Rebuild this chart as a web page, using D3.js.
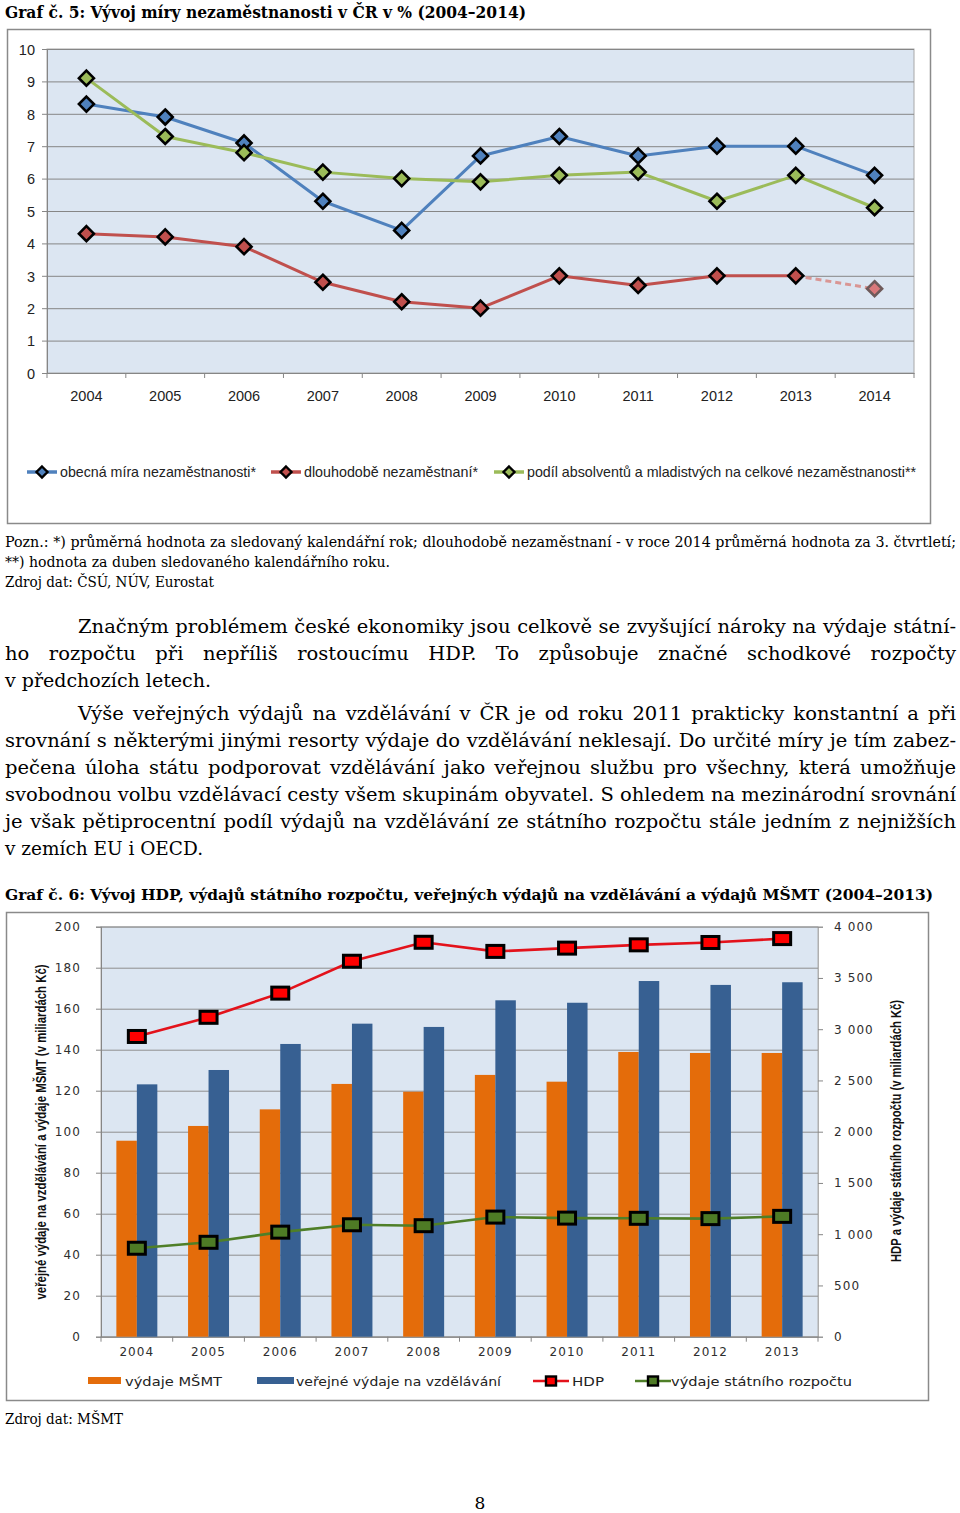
<!DOCTYPE html>
<html>
<head>
<meta charset="utf-8">
<script src="https://cdn.jsdelivr.net/npm/d3@7"></script>
<style>
  body { margin: 0; background: #ffffff; }
  svg { display: block; }
</style>
</head>
<body>
<svg id="page" width="960" height="1513"></svg>
<script>
// ---------------- DATA ----------------
// Graf č. 5
const years1 = ["2004","2005","2006","2007","2008","2009","2010","2011","2012","2013","2014"];
const obecnaMira = [8.3, 7.9, 7.1, 5.3, 4.4, 6.7, 7.3, 6.7, 7.0, 7.0, 6.1];
const dlouhodobe = [4.3, 4.2, 3.9, 2.8, 2.2, 2.0, 3.0, 2.7, 3.0, 3.0, 2.6];
const podilAbsolventu = [9.1, 7.3, 6.8, 6.2, 6.0, 5.9, 6.1, 6.2, 5.3, 6.1, 5.1];
const ticks1 = [0, 1, 2, 3, 4, 5, 6, 7, 8, 9, 10];
const legend1 = ["obecná míra nezaměstnanosti*", "dlouhodobě nezaměstnaní*", "podíl absolventů a mladistvých na celkové nezaměstnanosti**"];

// Graf č. 6
const years2 = ["2004","2005","2006","2007","2008","2009","2010","2011","2012","2013"];
const vydajeMSMT = [95.6, 102.8, 110.9, 123.3, 119.5, 127.7, 124.4, 138.9, 138.4, 138.4];
const verejneVydaje = [123.1, 130.1, 142.8, 152.7, 151.1, 164.1, 162.9, 173.5, 171.6, 172.9];
const hdp = [2929, 3116, 3352, 3663, 3848, 3759, 3791, 3823, 3846, 3884];
const vydajeRozpoctu = [863, 921, 1020, 1092, 1083, 1167, 1157, 1155, 1152, 1174];
const ticksLeft2 = [0, 20, 40, 60, 80, 100, 120, 140, 160, 180, 200];
const ticksRight2 = [0, 500, 1000, 1500, 2000, 2500, 3000, 3500, 4000];
const legend2 = ["výdaje MŠMT", "veřejné výdaje na vzdělávání", "HDP", "výdaje státního rozpočtu"];

// ---------------- HELPERS ----------------
const svg = d3.select("#page");
const SERIF = "'DejaVu Serif', 'Liberation Serif', serif";
const NARROW = "'Liberation Sans Narrow', 'Liberation Sans', Arial, sans-serif";
const VERD = "'DejaVu Sans', Verdana, sans-serif";

function fitText(parent, str, x, y, w, style) {
  const t = parent.append("text").attr("x", x).attr("y", y).text(str);
  Object.entries(style || {}).forEach(([k, v]) => t.style(k, v));
  if (w) t.attr("textLength", w).attr("lengthAdjust", "spacingAndGlyphs");
  return t;
}

function paragraph(lines, style) {
  lines.forEach(l => {
    l.t = svg.append("text").attr("x", l.x).attr("y", l.y).text(l.s);
    Object.entries(style).forEach(([k, v]) => l.t.style(k, v));
    l.nat = l.t.node().getComputedTextLength();
  });
  const just = lines.filter(l => l.justify);
  const scale = just.length ? d3.min(just, l => l.w / l.nat) : 1;
  lines.forEach(l => {
    if (l.justify) {
      const n = (l.s.match(/ /g) || []).length;
      const ws = Math.max(0, (l.w / scale - l.nat) / Math.max(1, n));
      l.t.style("word-spacing", ws + "px");
    }
    l.t.attr("textLength", l.w).attr("lengthAdjust", "spacingAndGlyphs");
  });
}

// ---------------- TITLES / TEXT ----------------
fitText(svg, "Graf č. 5: Vývoj míry nezaměstnanosti v ČR v % (2004–2014)", 5, 18, 521,
  {"font-family": SERIF, "font-weight": "bold", "font-size": "16.5px", fill: "#000"});

// chart 1 frame
svg.append("rect").attr("x", 7.5).attr("y", 29.5).attr("width", 923).attr("height", 494)
  .attr("fill", "#fff").attr("stroke", "#8a8a8a").attr("stroke-width", 1.5);

// notes
paragraph([
  {s: "Pozn.: *) průměrná hodnota za sledovaný kalendářní rok; dlouhodobě nezaměstnaní - v roce 2014 průměrná hodnota za 3. čtvrtletí;", x: 5, y: 547, w: 951, justify: true},
], {"font-family": SERIF, "font-size": "14px", fill: "#000"});
fitText(svg, "**) hodnota za duben sledovaného kalendářního roku.", 5, 567, 385, {"font-family": SERIF, "font-size": "14px", fill: "#000"});
fitText(svg, "Zdroj dat: ČSÚ, NÚV, Eurostat", 5, 587, 209, {"font-family": SERIF, "font-size": "14px", fill: "#000"});

paragraph([
  {s: "Značným problémem české ekonomiky jsou celkově se zvyšující nároky na výdaje státní-", x: 78, y: 633, w: 878, justify: true},
  {s: "ho rozpočtu při nepříliš rostoucímu HDP. To způsobuje značné schodkové rozpočty", x: 5, y: 660, w: 951, justify: true},
  {s: "v předchozích letech.", x: 5, y: 687, w: 206, justify: false},
  {s: "Výše veřejných výdajů na vzdělávání v ČR je od roku 2011 prakticky konstantní a při", x: 78, y: 720, w: 878, justify: true},
  {s: "srovnání s některými jinými resorty výdaje do vzdělávání neklesají. Do určité míry je tím zabez-", x: 5, y: 747, w: 951, justify: true},
  {s: "pečena úloha státu podporovat vzdělávání jako veřejnou službu pro všechny, která umožňuje", x: 5, y: 774, w: 951, justify: true},
  {s: "svobodnou volbu vzdělávací cesty všem skupinám obyvatel. S ohledem na mezinárodní srovnání", x: 5, y: 801, w: 951, justify: true},
  {s: "je však pětiprocentní podíl výdajů na vzdělávání ze státního rozpočtu stále jedním z nejnižších", x: 5, y: 828, w: 951, justify: true},
  {s: "v zemích EU i OECD.", x: 5, y: 855, w: 198, justify: false}
], {"font-family": SERIF, "font-size": "19px", fill: "#000"});

fitText(svg, "Graf č. 6: Vývoj HDP, výdajů státního rozpočtu, veřejných výdajů na vzdělávání a výdajů MŠMT (2004–2013)", 5, 900, 928,
  {"font-family": SERIF, "font-weight": "bold", "font-size": "15.5px", fill: "#000"});

fitText(svg, "Zdroj dat: MŠMT", 5, 1424, 118, {"font-family": SERIF, "font-size": "14px", fill: "#000"});
svg.append("text").attr("x", 480).attr("y", 1509).attr("text-anchor", "middle")
  .style("font-family", SERIF).style("font-size", "17px").text("8");

// ---------------- CHART 1 ----------------
const p1 = {l: 47, r: 914, t: 49, b: 373};
const x1 = d3.scaleBand().domain(years1).range([p1.l, p1.r]);
const y1 = d3.scaleLinear().domain([0, 10]).range([p1.b, p1.t]);
const c1 = svg.append("g");

c1.append("rect").attr("x", p1.l).attr("y", p1.t).attr("width", p1.r - p1.l).attr("height", p1.b - p1.t)
  .attr("fill", "#dce6f2").attr("stroke", "#a8a8a8").attr("stroke-width", 1);

// gridlines
c1.append("g").attr("transform", `translate(${p1.l},0)`)
  .call(d3.axisLeft(y1).tickValues(ticks1).tickSize(-(p1.r - p1.l)).tickFormat(""))
  .call(g => g.select(".domain").remove())
  .call(g => g.selectAll("line").attr("stroke", "#868686").attr("stroke-width", 1));

// left axis
c1.append("g").attr("transform", `translate(${p1.l},0)`)
  .call(d3.axisLeft(y1).tickValues(ticks1).tickSize(5).tickPadding(7))
  .call(g => g.select(".domain").attr("stroke", "#868686"))
  .call(g => g.selectAll("line").attr("stroke", "#868686"))
  .call(g => g.selectAll("text").style("font-family", NARROW).style("font-size", "14.5px").attr("fill", "#222").attr("dy", "0.36em"));

// bottom axis
c1.append("g").attr("transform", `translate(0,${p1.b})`)
  .call(d3.axisBottom(x1).tickSize(0).tickPadding(18))
  .call(g => g.select(".domain").attr("stroke", "#868686"))
  .call(g => g.selectAll("text").style("font-family", NARROW).style("font-size", "14.5px").attr("fill", "#222"));
c1.append("g").selectAll("line").data(years1.concat(["end"])).join("line")
  .attr("x1", d => d === "end" ? p1.r : x1(d)).attr("x2", d => d === "end" ? p1.r : x1(d))
  .attr("y1", p1.b).attr("y2", p1.b + 5).attr("stroke", "#868686");

const cx1 = d => x1(d) + x1.bandwidth() / 2;
const diamond = r => `M0,${-r}L${r},0L0,${r}L${-r},0Z`;

const series1 = [
  {name: legend1[0], values: obecnaMira, color: "#4f81bd"},
  {name: legend1[1], values: dlouhodobe, color: "#c0504d", lastDashed: true},
  {name: legend1[2], values: podilAbsolventu, color: "#9bbb59"}
];

series1.forEach(s => {
  const pts = years1.map((y, i) => ({y, v: s.values[i], i}));
  const solid = s.lastDashed ? pts.slice(0, pts.length - 1) : pts;
  const line = d3.line().x(d => cx1(d.y)).y(d => y1(d.v));
  c1.append("path").datum(solid).attr("d", line).attr("fill", "none")
    .attr("stroke", s.color).attr("stroke-width", 3).attr("stroke-linejoin", "round");
  if (s.lastDashed) {
    c1.append("path").datum(pts.slice(pts.length - 2)).attr("d", line).attr("fill", "none")
      .attr("stroke", "#d99694").attr("stroke-width", 3).attr("stroke-dasharray", "6,4");
  }
  c1.append("g").selectAll("path").data(pts).join("path")
    .attr("transform", d => `translate(${cx1(d.y)},${y1(d.v)})`)
    .attr("d", diamond(7.5))
    .attr("fill", d => (s.lastDashed && d.i === pts.length - 1) ? "#d9787a" : s.color)
    .attr("stroke", d => (s.lastDashed && d.i === pts.length - 1) ? "#6e5a5a" : "#000")
    .attr("stroke-width", 2.6);
});

// legend 1
const leg1 = [
  {x: 27, tx: 60, w: 196},
  {x: 271, tx: 304, w: 174},
  {x: 494, tx: 527, w: 389}
];
series1.forEach((s, i) => {
  const L = leg1[i];
  const g = c1.append("g").attr("transform", `translate(${L.x},472)`);
  g.append("line").attr("x1", 0).attr("x2", 30).attr("stroke", s.color).attr("stroke-width", 3.5);
  g.append("path").attr("transform", "translate(15,0)").attr("d", diamond(5.5)).attr("fill", s.color)
    .attr("stroke", "#000").attr("stroke-width", 2.4);
  fitText(c1, s.name, L.tx, 477, L.w, {"font-family": NARROW, "font-size": "15px", fill: "#222"});
});

// ---------------- CHART 2 ----------------
svg.append("rect").attr("x", 6.5).attr("y", 912.5).attr("width", 922).attr("height", 488)
  .attr("fill", "#fff").attr("stroke", "#8a8a8a").attr("stroke-width", 1.5);

const p2 = {l: 101, r: 818, t: 926.7, b: 1336.7};
const x2 = d3.scaleBand().domain(years2).range([p2.l, p2.r]);
const yL = d3.scaleLinear().domain([0, 200]).range([p2.b, p2.t]);
const yR = d3.scaleLinear().domain([0, 4000]).range([p2.b, p2.t]);
const fmtR = d3.formatLocale({decimal: ",", thousands: " ", grouping: [3], currency: ["", " Kč"]}).format(",");
const c2 = svg.append("g");

c2.append("rect").attr("x", p2.l).attr("y", p2.t).attr("width", p2.r - p2.l).attr("height", p2.b - p2.t)
  .attr("fill", "#dce6f2").attr("stroke", "#b0b0b0").attr("stroke-width", 1);

c2.append("g").attr("transform", `translate(${p2.l},0)`)
  .call(d3.axisLeft(yL).tickValues(ticksLeft2).tickSize(-(p2.r - p2.l)).tickFormat(""))
  .call(g => g.select(".domain").remove())
  .call(g => g.selectAll("line").attr("stroke", "#8e8e8e"));

const tickTextStyle = g => g.selectAll("text").style("font-family", VERD).style("font-size", "12px")
  .style("letter-spacing", "1.1px").attr("fill", "#2e2e2e");

c2.append("g").attr("transform", `translate(${p2.l},0)`)
  .call(d3.axisLeft(yL).tickValues(ticksLeft2).tickSize(5).tickPadding(15))
  .call(g => g.select(".domain").attr("stroke", "#868686"))
  .call(g => g.selectAll("line").attr("stroke", "#868686"))
  .call(tickTextStyle);

c2.append("g").attr("transform", `translate(${p2.r},0)`)
  .call(d3.axisRight(yR).tickValues(ticksRight2).tickSize(5).tickPadding(11).tickFormat(fmtR))
  .call(g => g.select(".domain").attr("stroke", "#b0b0b0"))
  .call(g => g.selectAll("line").attr("stroke", "#868686"))
  .call(tickTextStyle);

c2.append("g").attr("transform", `translate(0,${p2.b})`)
  .call(d3.axisBottom(x2).tickSize(0).tickPadding(11))
  .call(g => g.select(".domain").attr("stroke", "#868686"))
  .call(tickTextStyle);
c2.append("g").selectAll("line").data(years2.concat(["end"])).join("line")
  .attr("x1", d => d === "end" ? p2.r : x2(d)).attr("x2", d => d === "end" ? p2.r : x2(d))
  .attr("y1", p2.b).attr("y2", p2.b + 5).attr("stroke", "#868686");

// bars
const keys2 = ["msmt", "verejne"];
const barVals = {msmt: vydajeMSMT, verejne: verejneVydaje};
const barCol = {msmt: "#e46c0a", verejne: "#376092"};
const xIn = d3.scaleBand().domain(keys2).range([0, x2.bandwidth()]).paddingInner(0).paddingOuter(0.75);
c2.append("g").selectAll("g").data(years2).join("g")
  .attr("transform", d => `translate(${x2(d)},0)`)
  .selectAll("rect").data((d, i) => keys2.map(k => ({k, v: barVals[k][i]}))).join("rect")
  .attr("x", d => xIn(d.k)).attr("width", xIn.bandwidth())
  .attr("y", d => yL(d.v)).attr("height", d => yL(0) - yL(d.v))
  .attr("fill", d => barCol[d.k]);

// lines (right axis)
const cx2 = d => x2(d) + x2.bandwidth() / 2;
const lines2 = [
  {values: hdp, color: "#e3121b", fill: "#ff0000"},
  {values: vydajeRozpoctu, color: "#4f7f28", fill: "#4e7b25"}
];
lines2.forEach(s => {
  const pts = years2.map((y, i) => ({y, v: s.values[i]}));
  c2.append("path").datum(pts).attr("d", d3.line().x(d => cx2(d.y)).y(d => yR(d.v)))
    .attr("fill", "none").attr("stroke", s.color).attr("stroke-width", 2.6);
  c2.append("g").selectAll("rect").data(pts).join("rect")
    .attr("x", d => cx2(d.y) - 8.5).attr("y", d => yR(d.v) - 6)
    .attr("width", 17).attr("height", 12)
    .attr("fill", s.fill).attr("stroke", "#000").attr("stroke-width", 3);
});

// axis titles
svg.append("text").attr("transform", "translate(46,1132) rotate(-90)").attr("text-anchor", "middle")
  .attr("textLength", 335).attr("lengthAdjust", "spacingAndGlyphs")
  .style("font-family", NARROW).style("font-weight", "bold").style("font-size", "15.5px").attr("fill", "#111")
  .text("veřejné výdaje na vzdělávání a výdaje MŠMT (v miliardách Kč)");
svg.append("text").attr("transform", "translate(901,1131) rotate(-90)").attr("text-anchor", "middle")
  .attr("textLength", 262).attr("lengthAdjust", "spacingAndGlyphs")
  .style("font-family", NARROW).style("font-weight", "bold").style("font-size", "15.5px").attr("fill", "#111")
  .text("HDP a výdaje státního rozpočtu (v miliardách Kč)");

// legend 2
const lg2 = svg.append("g");
const legStyle = {"font-family": VERD, "font-size": "13px", fill: "#222"};
lg2.append("rect").attr("x", 88).attr("y", 1377).attr("width", 33).attr("height", 7).attr("fill", barCol.msmt);
fitText(lg2, legend2[0], 125, 1386, 97, legStyle);
lg2.append("rect").attr("x", 257).attr("y", 1377).attr("width", 37).attr("height", 7).attr("fill", barCol.verejne);
fitText(lg2, legend2[1], 296, 1386, 205, legStyle);
[[533, lines2[0], 572, 32, legend2[2]], [635, lines2[1], 671, 181, legend2[3]]].forEach(([lx, s, tx, tw, label]) => {
  lg2.append("line").attr("x1", lx).attr("x2", lx + 36).attr("y1", 1381).attr("y2", 1381)
    .attr("stroke", s.color).attr("stroke-width", 2.6);
  lg2.append("rect").attr("x", lx + 13).attr("y", 1376.5).attr("width", 10).attr("height", 9)
    .attr("fill", s.fill).attr("stroke", "#000").attr("stroke-width", 2.4);
  fitText(lg2, label, tx, 1386, tw, legStyle);
});
</script>
</body>
</html>
